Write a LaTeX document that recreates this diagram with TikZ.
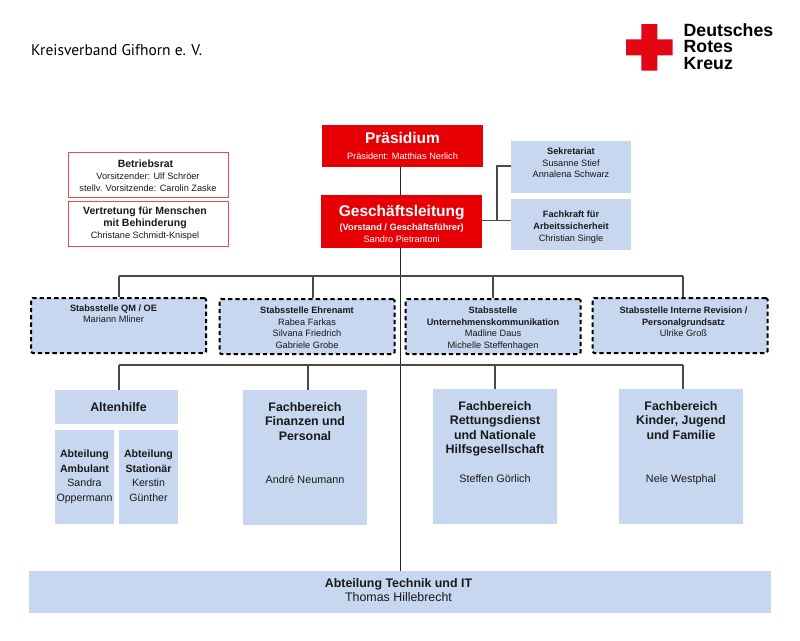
\documentclass[tikz,border=0pt]{standalone}
\usepackage{fontspec}
\setmainfont{Liberation Sans}
\newfontfamily\titlefont{PT Sans}
\usetikzlibrary{positioning}

\definecolor{drkred}{HTML}{E60005}
\definecolor{crossred}{HTML}{E30613}
\definecolor{boxblue}{HTML}{C6D7EF}
\definecolor{ruleline}{HTML}{4A4A4A}
\definecolor{rateline}{HTML}{EE4A52}
\newcommand{\fsize}[2]{\fontsize{#1}{#2}\selectfont}
\newcommand{\headtext}[1]{{\bfseries\fsize{12.4}{14.5}#1}}
\newcommand{\pad}[1]{\hspace*{#1}}

\begin{document}
\begin{tikzpicture}[x=1pt,y=-1pt,
    boxbase/.style={rectangle, inner sep=0pt, align=center, text=black!90},
    redbox/.style={boxbase, fill=drkred, text=white, font=\fsize{9.2}{11.7}},
    ratbox/.style={boxbase, draw=rateline, line width=1pt, fill=white, minimum width=160pt, minimum height=45pt, font=\fsize{9.2}{11.7}},
    sidebox/.style={boxbase, fill=boxblue, minimum width=120pt, font=\fsize{9.2}{11.7}},
    stabsbox/.style={boxbase, draw=black, fill=boxblue, line width=2pt, dash pattern=on 4.3pt off 3pt, rounded corners=1.5pt, minimum width=175pt, minimum height=55pt, font=\fsize{9.2}{11.7}},
    fachbox/.style={boxbase, fill=boxblue, minimum width=124pt, minimum height=135pt, font=\fsize{10.8}{14.5}},
    subbox/.style={boxbase, fill=boxblue, minimum width=59pt, minimum height=94pt, font=\fsize{10.6}{14.5}},
    linkline/.style={draw=ruleline, line width=1.6pt},
    trunkline/.style={draw=black!85, line width=1.2pt}
  ]
  \useasboundingbox (0,0) rectangle (800,640);

  % --- Title and logo ---
  \node[anchor=west, inner sep=0pt, font=\titlefont\fsize{15.5}{17}] (title) at (31,50) {Kreisverband Gifhorn e. V.};
  \fill[crossred] (641.3,24) -| (657.3,39.3) -| (672.7,55.3) -| (657.3,70.7) -| (641.3,55.3) -| (626,39.3) -| cycle;
  \node[anchor=north west, inner sep=0pt, align=left, font=\bfseries\fsize{17.7}{16.6}] (logo) at (683.5,23) {Deutsches\\Rotes\\Kreuz};

  % --- Top management ---
  \node[redbox, minimum width=161pt, minimum height=42pt] (praes) at (402.5,146) {{\bfseries\fsize{15.5}{18}Präsidium}\\[4pt]Präsident: Matthias Nerlich};
  \node[redbox, minimum width=160.5pt, minimum height=52.5pt] (gl) at (401.7,221.7) {{\bfseries\fsize{15.5}{18}Geschäftsleitung}\\[2.5pt]{\bfseries (Vorstand / Geschäftsführer)}\\Sandro Pietrantoni\\[-15.7pt]~};

  % --- Staff next to management ---
  \node[sidebox, minimum height=52pt] (sekr) at (571,167) {{\bfseries Sekretariat}\\Susanne Stief\\Annalena Schwarz\\[-3.1pt]~};
  \node[sidebox, minimum height=51pt] (fasi) at (571,224.5) {{\bfseries Fachkraft für}\\{\bfseries Arbeitssicherheit}\\Christian Single\\[-14.7pt]~};

  % --- Works council ---
  \node[ratbox] (rat) at (148,174.5) {\pad{-5pt}{\bfseries\fsize{10.5}{11.7}Betriebsrat}\\Vorsitzender: Ulf Schröer\\stellv. Vorsitzende: Carolin Zaske\\[-13.7pt]~};
  \node[ratbox] (vert) at (148,223.5) {\pad{-6pt}{\bfseries\fsize{10.5}{11.7}Vertretung für Menschen}\\\pad{-6pt}{\bfseries\fsize{10.5}{11.7}mit Behinderung}\\\pad{-6pt}Christane Schmidt-Knispel};

  % --- Staff units ---
  \node[stabsbox] (qm) at (118.5,325.5) {\pad{-10pt}{\bfseries Stabsstelle QM / OE}\\\pad{-10pt}Mariann Mliner\\~\\~};
  \node[stabsbox] (ehr) at (307,326.5) {{\bfseries Stabsstelle Ehrenamt}\\Rabea Farkas\\Silvana Friedrich\\Gabriele Grobe\\[-14.2pt]~};
  \node[stabsbox] (komm) at (493,326.5) {{\bfseries Stabsstelle}\\{\bfseries Unternehmenskommunikation}\\Madline Daus\\Michelle Steffenhagen\\[-14.2pt]~};
  \node[stabsbox] (rev) at (680,325.5) {\pad{7pt}{\bfseries Stabsstelle Interne Revision /}\\\pad{7pt}{\bfseries Personalgrundsatz}\\\pad{7pt}Ulrike Groß\\[-4.1pt]~};

  % --- Departments ---
  \node[fachbox, minimum width=123pt, minimum height=34pt] (alt) at (116.5,407) {\pad{4pt}\headtext{Altenhilfe}};
  \node[subbox] (amb) at (84.5,477) {{\bfseries Abteilung}\\{\bfseries Ambulant}\\Sandra\\Oppermann\\[-11.5pt]~};
  \node[subbox] (stat) at (148.5,477) {{\bfseries Abteilung}\\{\bfseries Stationär}\\Kerstin\\Günther\\[-11.5pt]~};
  \node[fachbox] (fin) at (305,457.5) {\headtext{Fachbereich}\\\headtext{Finanzen und}\\\headtext{Personal}\\~\\~\\André Neumann\\~\\~};
  \node[fachbox] (rett) at (495,456.5) {\headtext{Fachbereich}\\\headtext{Rettungsdienst}\\\headtext{und Nationale}\\\headtext{Hilfsgesellschaft}\\~\\Steffen Görlich\\~\\~};
  \node[fachbox] (kind) at (681,456.5) {\headtext{Fachbereich}\\\headtext{Kinder, Jugend}\\\headtext{und Familie}\\~\\~\\Nele Westphal\\~\\~};
  \node[boxbase, fill=boxblue, minimum width=742pt, minimum height=42pt, font=\fsize{12.4}{14.5}] (tech) at (400,592) {\pad{-3pt}{\bfseries Abteilung Technik und IT}\\\pad{-3pt}Thomas Hillebrecht\\[-10.5pt]~};

  % --- Connectors ---
  \coordinate (trunk) at (400.5,276);
  \coordinate (stabsbus) at (119,276);
  \coordinate (ehrdrop) at (312.8,276);
  \coordinate (revdrop) at (683,276);
  \coordinate (fachbus) at (119,365);
  \coordinate (findrop) at (308,365);
  \coordinate (kinddrop) at (683,365);
  \coordinate (sidebranch) at (497,220.5);
  \coordinate (sekrjoin) at (511,165.5);

  \draw[trunkline] (praes.south -| trunk) -- (gl.north -| trunk);
  \draw[trunkline] (gl.south -| trunk) -- (tech.north -| trunk);

  \draw[linkline] (gl.east |- sidebranch) -- (fasi.west |- sidebranch);
  \draw[linkline, line width=2pt] (sidebranch) |- (sekrjoin);

  \draw[linkline] (stabsbus) -- (revdrop);
  \draw[linkline] (stabsbus) -- (stabsbus |- qm.north);
  \draw[linkline] (ehrdrop) -- (ehrdrop |- ehr.north);
  \draw[linkline] (komm.north) -- (komm.north |- trunk);
  \draw[linkline] (revdrop) -- (revdrop |- rev.north);

  \draw[linkline] (fachbus) -- (kinddrop);
  \draw[linkline] (fachbus) -- (fachbus |- alt.north);
  \draw[linkline] (findrop) -- (findrop |- fin.north);
  \draw[linkline] (rett.north) -- (rett.north |- fachbus);
  \draw[linkline] (kinddrop) -- (kinddrop |- kind.north);

\end{tikzpicture}
\end{document}
